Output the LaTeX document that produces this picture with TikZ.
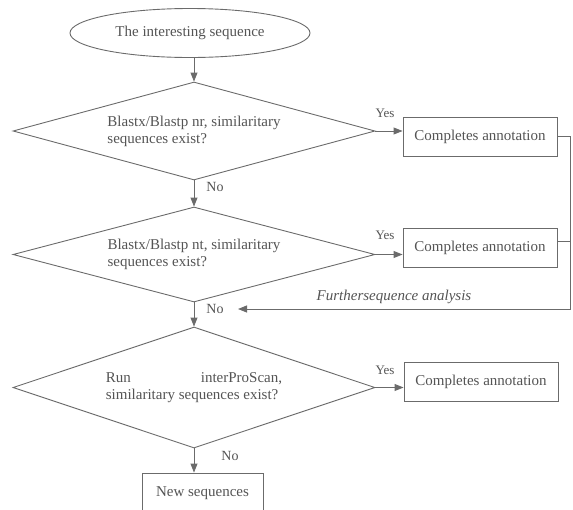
\documentclass[tikz,border=0pt]{standalone}
\usepackage{fontspec}
\setmainfont{Liberation Serif}
\usepackage{xcolor}
\usepackage{tikz}
\usetikzlibrary{shapes.geometric,arrows.meta}

\definecolor{linegray}{gray}{0.42}
\definecolor{textgray}{gray}{0.33}

\begin{document}
\begin{tikzpicture}[x=1pt, y=-1pt,
every node/.style={text=textgray, font=\fontsize{15}{17}\selectfont},
startnode/.style={draw=linegray, line width=0.9pt, ellipse, minimum width=240pt, minimum height=49pt, inner sep=0pt},
decision/.style={draw=linegray, line width=0.9pt, diamond, minimum width=362pt, minimum height=98pt, shape aspect=3.69, inner sep=0pt, align=left},
box/.style={draw=linegray, line width=0.9pt, rectangle, minimum width=154pt, minimum height=39pt, inner sep=0pt},
yeslbl/.style={font=\fontsize{13}{15}\selectfont},
nolbl/.style={font=\fontsize{14}{16}\selectfont},
arrow/.style={draw=linegray, line width=0.9pt, -{Triangle[length=9pt, width=7pt]}}]

\useasboundingbox (0,0) rectangle (573,509);

% Main column
\node[startnode] (start) at (190,33) {The interesting sequence};
\node[decision] (d1) at (194,131) {Blastx/Blastp nr, similaritary\\sequences exist?};
\node[decision, minimum height=95pt, shape aspect=3.81] (d2) at (194,254.5) {Blastx/Blastp nt, similaritary\\sequences exist?};
\node[decision, minimum height=121pt, shape aspect=2.99] (d3) at (194,387.5) {Run\hspace{70pt}interProScan,\\similaritary sequences exist?};
\node[box, minimum width=121pt, minimum height=40pt] (newseq) at (202.5,493) {New sequences};

% Annotation boxes
\node[box] (c1) at (480,136.5) {Completes annotation};
\node[box] (c2) at (480,247.5) {Completes annotation};
\node[box] (c3) at (481,381.5) {Completes annotation};

% Labels
\node[yeslbl] (y1) at (385,113) {Yes};
\node[yeslbl] (y2) at (385,235) {Yes};
\node[yeslbl] (y3) at (385,370) {Yes};
\node[nolbl] (n1) at (215,187) {No};
\node[nolbl] (n2) at (215,309) {No};
\node[nolbl] (n3) at (230,456) {No};
\node[font=\fontsize{15}{17}\selectfont\itshape] (fb) at (394,297) {Furthersequence analysis};

\coordinate (fbturn) at (570,309);
\coordinate (fbtip) at (238,309);

% Connectors
\draw[arrow] (start.south -| d1.north) -- (d1.north);
\draw[arrow] (d1.south) -- (d2.north);
\draw[arrow] (d2.south) -- (d3.north);
\draw[arrow] (d3.south) -- (d3.south |- newseq.north);
\draw[arrow] (d1.east) -- (d1.east -| c1.west);
\draw[arrow] (d2.east) -- (d2.east -| c2.west);
\draw[arrow] (d3.east) -- (d3.east -| c3.west);

% Feedback line
\draw[arrow] (c1.east) -| (fbturn) -- (fbtip);
\draw[draw=linegray, line width=0.9pt] ([yshift=6pt]c2.east) -- ([yshift=6pt]c2.east -| fbturn);
\end{tikzpicture}
\end{document}
